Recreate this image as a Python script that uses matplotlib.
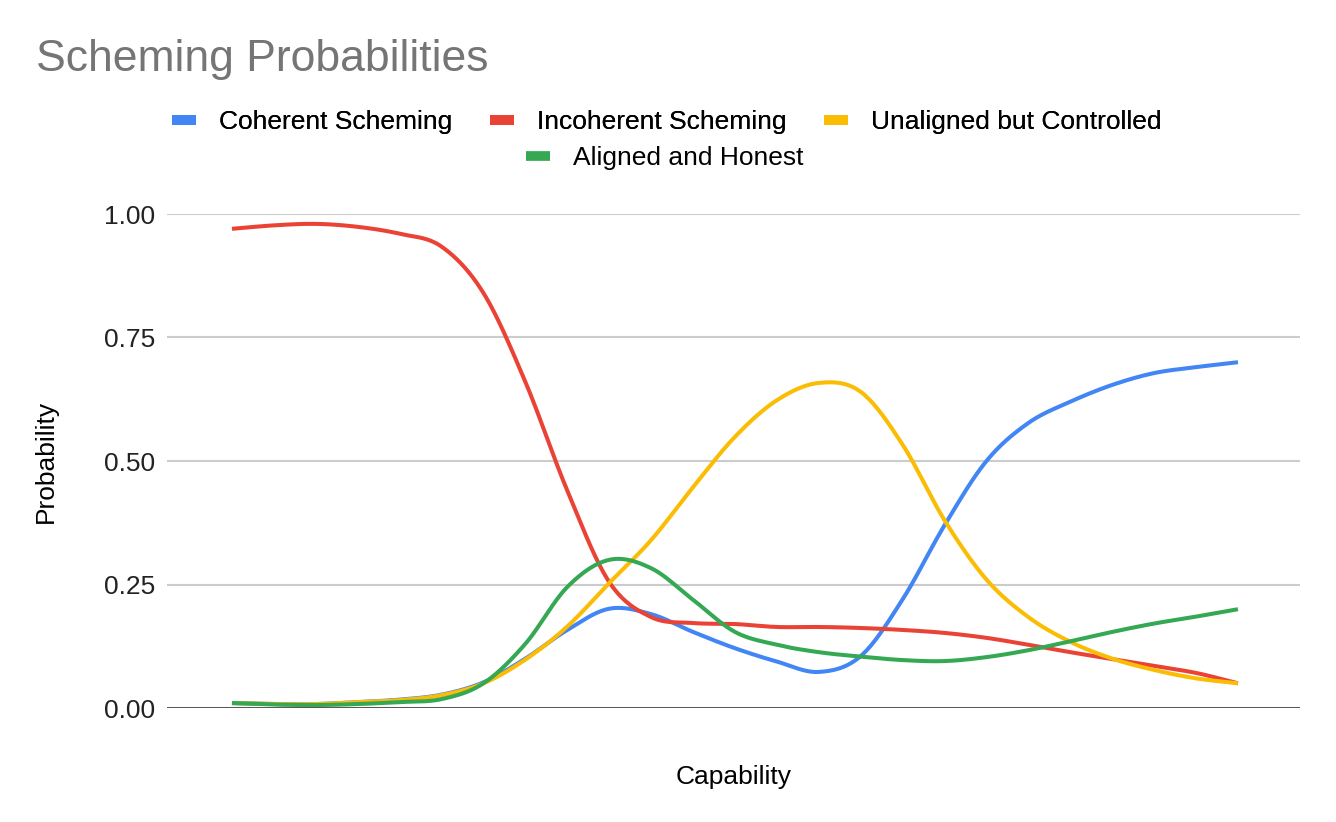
import numpy as np
import matplotlib
matplotlib.use('Agg')
import matplotlib.pyplot as plt
from matplotlib.lines import Line2D

plt.rcParams['font.family'] = ['Liberation Sans', 'DejaVu Sans']

# values at 25 evenly spaced capability steps
capability = np.arange(25)
coherent = [0.010, 0.008, 0.008, 0.012, 0.017, 0.027, 0.052, 0.100, 0.158, 0.201,
            0.190, 0.154, 0.121, 0.094, 0.073, 0.105, 0.220, 0.370, 0.500, 0.577,
            0.620, 0.654, 0.678, 0.690, 0.700]
incoherent = [0.970, 0.977, 0.980, 0.974, 0.960, 0.934, 0.840, 0.660, 0.440, 0.255,
              0.184, 0.172, 0.170, 0.164, 0.164, 0.162, 0.158, 0.152, 0.142, 0.128,
              0.113, 0.099, 0.085, 0.071, 0.050]
controlled = [0.010, 0.008, 0.008, 0.012, 0.016, 0.026, 0.050, 0.098, 0.165, 0.253,
              0.340, 0.447, 0.549, 0.623, 0.658, 0.640, 0.533, 0.380, 0.260, 0.184,
              0.134, 0.100, 0.077, 0.060, 0.050]
honest = [0.010, 0.007, 0.006, 0.008, 0.012, 0.018, 0.050, 0.130, 0.245, 0.300,
          0.283, 0.219, 0.154, 0.128, 0.113, 0.104, 0.097, 0.095, 0.103, 0.117,
          0.135, 0.154, 0.171, 0.185, 0.200]

names = ['Coherent Scheming', 'Incoherent Scheming', 'Unaligned but Controlled',
         'Aligned and Honest']
colors = ['#4285F4', '#EA4335', '#FBBC04', '#34A853']
yticks = [0.0, 0.25, 0.5, 0.75, 1.0]


def smooth(x, y, n=20):
    # catmull-rom through the points, like the sheets "smooth" line
    x = np.asarray(x, float)
    y = np.asarray(y, float)
    px = np.concatenate([[2 * x[0] - x[1]], x, [2 * x[-1] - x[-2]]])
    py = np.concatenate([[2 * y[0] - y[1]], y, [2 * y[-1] - y[-2]]])
    t = np.linspace(0, 1, n, endpoint=False)
    xs, ys = [], []
    for i in range(1, len(px) - 2):
        for p, out in ((px, xs), (py, ys)):
            p0, p1, p2, p3 = p[i - 1], p[i], p[i + 1], p[i + 2]
            out.append(0.5 * (2 * p1 + (-p0 + p2) * t
                              + (2 * p0 - 5 * p1 + 4 * p2 - p3) * t ** 2
                              + (-p0 + 3 * p1 - 3 * p2 + p3) * t ** 3))
    xs.append([x[-1]])
    ys.append([y[-1]])
    return np.concatenate(xs), np.concatenate(ys)


fig = plt.figure(figsize=(13.36, 8.22), dpi=100)
ax = fig.add_axes([167 / 1336, 114 / 822, 1133 / 1336, 494 / 822])

for ys, c in zip([coherent, incoherent, controlled, honest], colors):
    sx, sy = smooth(capability, ys)
    ax.plot(sx, sy, color=c, lw=2.9, solid_capstyle='butt', clip_on=False, zorder=3)

ax.set_xlim(-1.55, 25.48)
ax.set_ylim(0, 1.0)
ax.set_yticks(yticks)
ax.set_yticklabels(['%.2f' % v for v in yticks])
ax.set_xticks([])
ax.grid(axis='y', color='#cccccc', lw=1.5)
ax.axhline(0, color='#333333', lw=1.8, zorder=4)
for s in ax.spines.values():
    s.set_visible(False)
ax.tick_params(axis='y', length=0, pad=8.6, labelsize=19, labelcolor='#222222')

ax.set_ylabel('Probability', fontsize=19, labelpad=33)
ax.set_xlabel('Capability', fontsize=19, labelpad=41)

fig.text(36 / 1336, 1 - 60 / 822, 'Scheming Probabilities', fontsize=32,
         color='#757575', va='center', ha='left')

handles = [Line2D([], [], color=c, lw=7, solid_capstyle='butt') for c in colors]
leg1 = fig.legend(handles[:3], names[:3], loc='center', ncol=3, frameon=False,
                  bbox_to_anchor=(667 / 1336, 1 - 122 / 822), fontsize=19,
                  handlelength=0.9, handletextpad=0.87, columnspacing=1.44)
fig.add_artist(leg1)
fig.legend(handles[3:], names[3:], loc='center', frameon=False,
           bbox_to_anchor=(665 / 1336, 1 - 158 / 822), fontsize=19,
           handlelength=0.9, handletextpad=0.87)

fig.savefig('out.png', dpi=100, facecolor='white')
